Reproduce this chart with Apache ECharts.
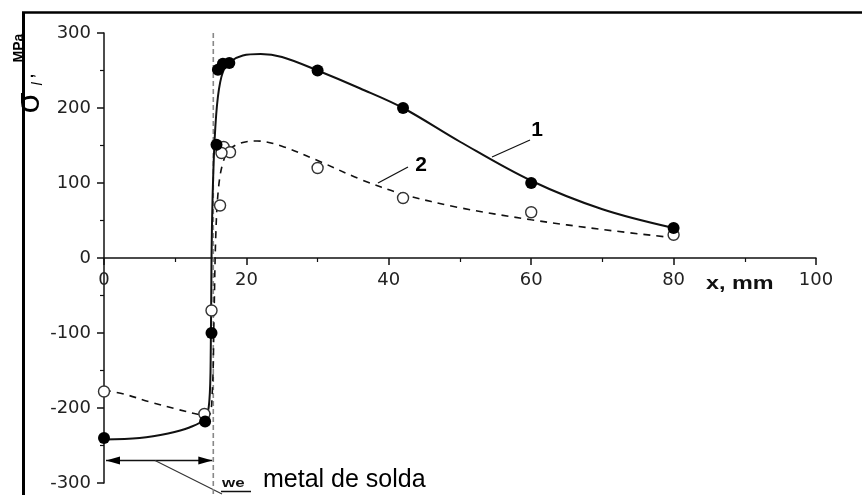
<!DOCTYPE html>
<html><head><meta charset="utf-8">
<script src="https://cdn.jsdelivr.net/npm/echarts@6/dist/echarts.min.js"></script>
<style>html,body{margin:0;padding:0;background:#fff}#c{width:862px;height:495px}</style>
</head><body><div id="c"></div>
<script>
// ---- data ----
const xTicks = [0, 20, 40, 60, 80, 100];
const yTicks = [-300, -200, -100, 0, 100, 200, 300];
// measured points, series 1 (filled)
const pts1X = [0, 14.2, 15.1, 15.8, 16.0, 16.7, 17.6, 30, 42, 60, 80];
const pts1Y = [-240, -218, -100, 151, 251, 259, 260, 250, 200, 100, 40];
// measured points, series 2 (open)
const pts2X = [0, 14.1, 15.1, 16.3, 16.8, 17.7, 16.5, 30, 42, 60, 80];
const pts2Y = [-178, -208, -70, 70, 148, 141, 140, 120, 80, 61, 31];
// fitted curve 1 (solid)
const c1X = [0, 5, 9, 12, 14.2, 14.8, 15.0, 15.1, 15.25, 15.55, 16.0, 16.7, 17.8, 19.5, 22, 25, 30, 36, 42, 50, 60, 70, 80];
const c1Y = [-242, -240, -234, -226, -214, -190, -120, 0, 80, 160, 215, 248, 262, 270, 272, 268, 250, 226, 200, 155, 103, 65, 40];
// fitted curve 2 (dashed)
const c2X = [0, 3, 6.5, 10, 13.5, 14.7, 15.2, 15.45, 15.7, 16.1, 16.8, 17.8, 19.5, 21.5, 25, 30, 36, 42, 50, 60, 70, 80];
const c2Y = [-176, -182, -192, -201, -209, -210, -180, -80, 30, 95, 130, 146, 154, 156, 149, 130, 105, 85, 67, 51, 38, 27];
const weldX = 15.35;       // dashed weld boundary
const arrowY = -270;       // dimension arrow level

const zip = (a, b) => a.map((v, i) => [v, b[i]]);
const chart = echarts.init(document.getElementById('c'), null, {renderer: 'canvas'});
const axisCol = '#111';
const lblStyle = {color: '#222', fontFamily: 'DejaVu Sans', fontSize: 18};
const gridTop = 33, gridBottom = 12, gridH = 495 - gridTop - gridBottom;
const xMin = xTicks[0], xMax = xTicks[xTicks.length - 1];
const yMin = yTicks[0], yMax = yTicks[yTicks.length - 1];
// x axis sits at y = 0: shift it up from the grid bottom by that fraction of the grid height
const xAxisOffset = -gridH * (0 - yMin) / (yMax - yMin);

chart.setOption({
  animation: false,
  backgroundColor: '#fff',
  grid: {left: 104, right: 46, top: gridTop, bottom: gridBottom, containLabel: false, outerBoundsMode: 'none'},
  xAxis: {
    type: 'value', min: xMin, max: xMax, interval: 20, position: 'bottom', offset: xAxisOffset,
    axisLine: {onZero: false, lineStyle: {color: axisCol, width: 1.5}},
    axisTick: {show: true, inside: false, length: 7, lineStyle: {color: axisCol, width: 1.5}},
    minorTick: {show: true, splitNumber: 2, length: 4, lineStyle: {color: axisCol, width: 1.2}},
    splitLine: {show: false},
    axisLabel: Object.assign({show: true, margin: 13, hideOverlap: false, showMinLabel: true, showMaxLabel: true}, lblStyle)
  },
  yAxis: {
    type: 'value', min: yMin, max: yMax, interval: 100,
    axisLine: {onZero: false, lineStyle: {color: axisCol, width: 1.5}},
    axisTick: {show: true, inside: false, length: 7, lineStyle: {color: axisCol, width: 1.5}},
    minorTick: {show: true, splitNumber: 2, length: 4, lineStyle: {color: axisCol, width: 1.2}},
    splitLine: {show: false},
    axisLabel: Object.assign({margin: 13}, lblStyle)
  },
  series: [
    {type: 'line', data: zip(c1X, c1Y), smooth: 0.35, showSymbol: false,
     lineStyle: {color: '#111', width: 2}, z: 2, silent: true},
    {type: 'line', data: zip(c2X, c2Y), smooth: 0.35, showSymbol: false,
     lineStyle: {color: '#111', width: 1.6, type: [7, 6]}, z: 2, silent: true},
    {type: 'scatter', data: zip(pts2X, pts2Y), symbol: 'circle', symbolSize: 11,
     itemStyle: {color: '#fff', borderColor: '#333', borderWidth: 1.4, opacity: 1}, z: 4},
    {type: 'scatter', data: zip(pts1X, pts1Y), symbol: 'circle', symbolSize: 12,
     itemStyle: {color: '#000', opacity: 1}, z: 5}
  ]
});

const P = (x, y) => chart.convertToPixel({gridIndex: 0}, [x, y]);
const wx = P(weldX, 300)[0];
const a0 = P(0, arrowY), a1 = P(weldX, arrowY);
const xm = P(89.3, 0);
const g = [];
// outer frame (left and top)
g.push({type: 'line', shape: {x1: 23.5, y1: 12.5, x2: 23.5, y2: 495}, style: {stroke: '#000', lineWidth: 3}});
g.push({type: 'line', shape: {x1: 22, y1: 12.5, x2: 862, y2: 12.5}, style: {stroke: '#000', lineWidth: 2.5}});
// weld boundary dashed line
g.push({type: 'line', shape: {x1: wx, y1: 33, x2: wx, y2: 495}, style: {stroke: '#888', lineWidth: 1.6, lineDash: [5, 3]}, z: 1});
// dimension arrow
g.push({type: 'line', shape: {x1: a0[0] + 2, y1: a0[1], x2: a1[0] - 1, y2: a1[1]}, style: {stroke: '#111', lineWidth: 1.5}});
g.push({type: 'polygon', shape: {points: [[a0[0] + 2, a0[1]], [a0[0] + 16, a0[1] - 4], [a0[0] + 16, a0[1] + 4]]}, style: {fill: '#000'}});
g.push({type: 'polygon', shape: {points: [[a1[0] - 1, a1[1]], [a1[0] - 15, a1[1] - 4], [a1[0] - 15, a1[1] + 4]]}, style: {fill: '#000'}});
// leader to "we"
g.push({type: 'line', shape: {x1: 155, y1: a0[1], x2: 222, y2: 494}, style: {stroke: '#333', lineWidth: 1.2}});
g.push({type: 'line', shape: {x1: 221, y1: 491.5, x2: 251, y2: 491.5}, style: {stroke: '#111', lineWidth: 1.5}});
g.push({type: 'text', x: 222, y: 490, scaleX: 1.3, style: {text: 'we', font: 'bold 13px "Liberation Sans"', fill: '#111', textVerticalAlign: 'bottom'}});
g.push({type: 'text', x: 263, y: 480, style: {text: 'metal de solda', font: '25px "Liberation Sans"', fill: '#000', textVerticalAlign: 'middle'}});
// x axis name
g.push({type: 'text', x: xm[0], y: xm[1] + 26, scaleX: 1.3, style: {text: 'x, mm', font: 'bold 18px "Liberation Sans"', fill: '#111', textAlign: 'center', textVerticalAlign: 'middle'}});
// curve labels and leaders
g.push({type: 'text', x: 537, y: 130, style: {text: '1', font: 'bold 21px "Liberation Sans"', fill: '#000', textAlign: 'center', textVerticalAlign: 'middle'}});
g.push({type: 'line', shape: {x1: 530, y1: 140, x2: 492, y2: 157}, style: {stroke: '#111', lineWidth: 1.2}});
g.push({type: 'text', x: 421, y: 165, style: {text: '2', font: 'bold 21px "Liberation Sans"', fill: '#000', textAlign: 'center', textVerticalAlign: 'middle'}});
g.push({type: 'line', shape: {x1: 408, y1: 167, x2: 378, y2: 183}, style: {stroke: '#111', lineWidth: 1.2}});
// y axis name  σ_l , MPa (rotated)
g.push({type: 'text', x: 30, y: 103, rotation: Math.PI / 2, style: {text: 'σ', font: '34px "Liberation Sans"', fill: '#000', textAlign: 'center', textVerticalAlign: 'middle'}});
g.push({type: 'text', x: 38, y: 84, rotation: Math.PI / 2, style: {text: 'l', font: 'italic 14px "Liberation Sans"', fill: '#000', textAlign: 'center', textVerticalAlign: 'middle'}});
g.push({type: 'text', x: 29, y: 76, rotation: Math.PI / 2, style: {text: ',', font: 'bold 14px "Liberation Sans"', fill: '#000', textAlign: 'center', textVerticalAlign: 'middle'}});
g.push({type: 'text', x: 19, y: 48, rotation: Math.PI / 2, style: {text: 'MPa', font: 'bold 14px "Liberation Sans"', fill: '#000', textAlign: 'center', textVerticalAlign: 'middle'}});
chart.setOption({graphic: {elements: g}});
</script></body></html>
